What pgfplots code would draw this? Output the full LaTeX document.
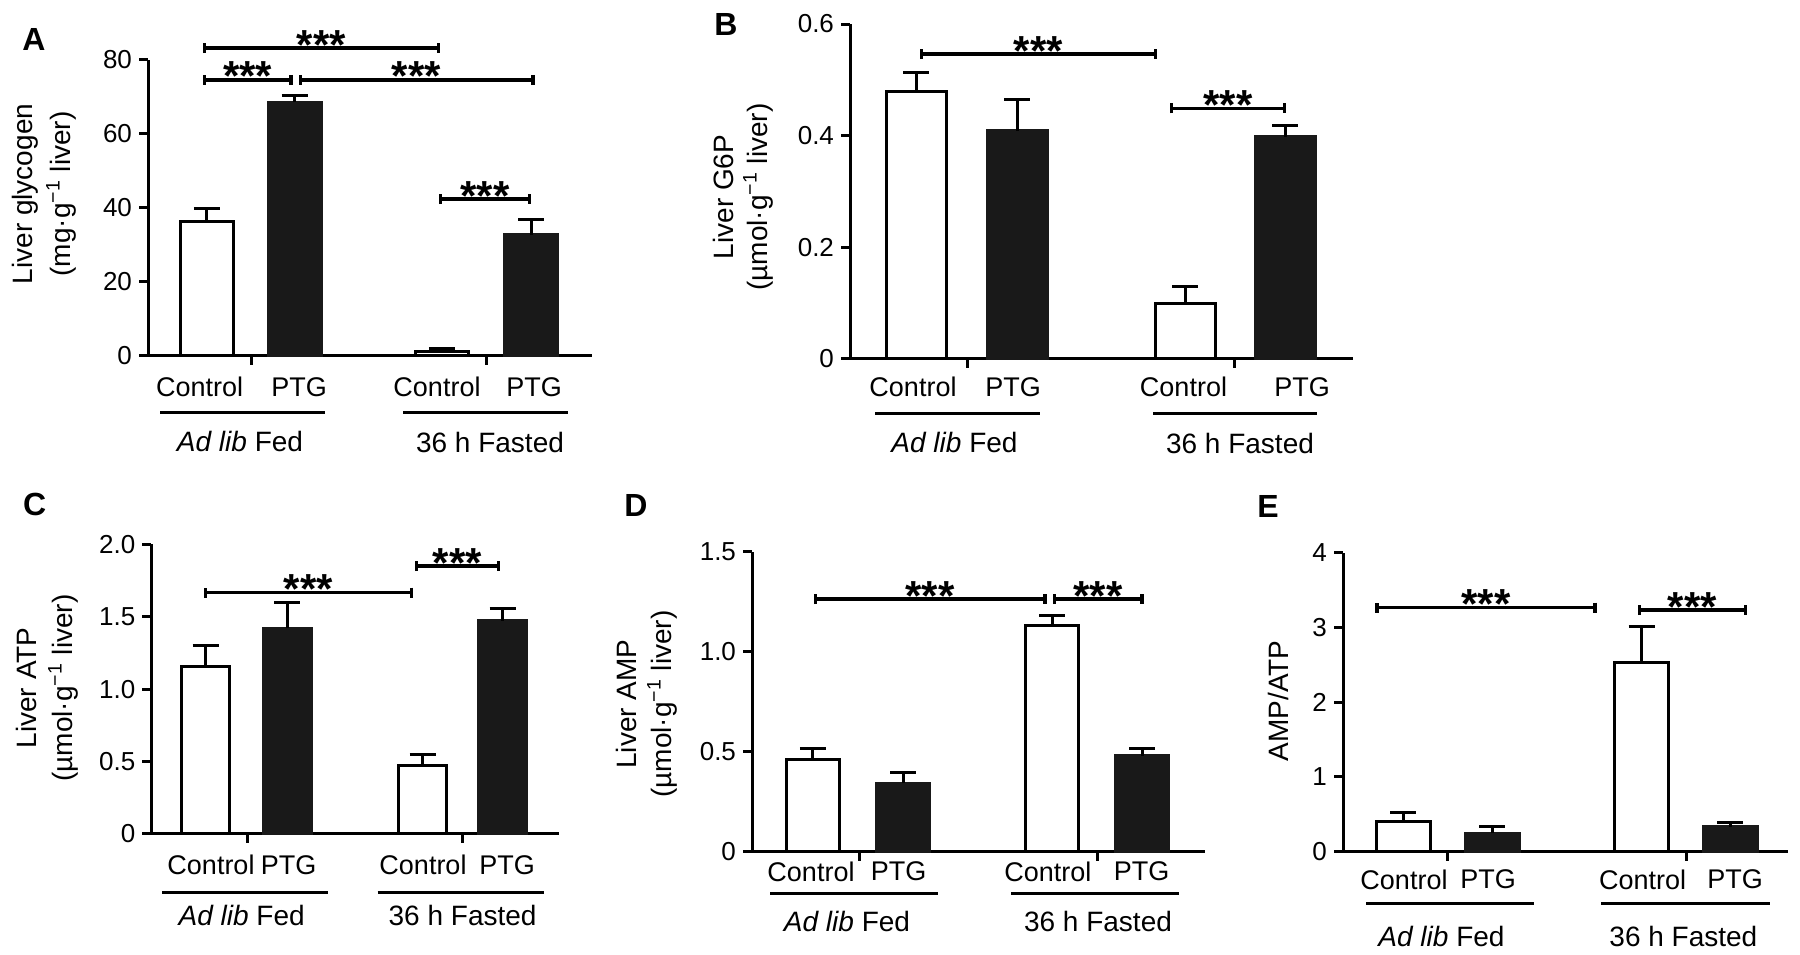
\documentclass[border=0pt]{standalone}
\usepackage{fontspec}
\setmainfont{Liberation Sans}
\usepackage{pgfplots}
\pgfplotsset{compat=1.18}
\usetikzlibrary{arrows.meta}

\tikzset{
  lab/.style={font=\fontsize{13.5}{14}\selectfont, inner sep=0pt, anchor=center},
  glab/.style={font=\fontsize{14}{15}\selectfont, inner sep=0pt, anchor=center},
  st/.style={font=\fontsize{21}{21}\selectfont\bfseries, inner sep=0pt, anchor=base},
  uline/.style={line width=1.5pt},
  brk/.style={{Bar[width=5pt]}-{Bar[width=5pt]}, line width=1.7pt},
  ylab/.style={font=\fontsize{14}{15}\selectfont, rotate=90, inner sep=0pt, anchor=center},
  plab/.style={font=\fontsize{16}{16}\selectfont\bfseries, inner sep=0pt, anchor=center},
}
\pgfplotsset{
  panel/.style={
    scale only axis, anchor=south west, clip=false,
    axis x line*=bottom, axis y line*=left,
    axis line style={line width=1.5pt},
    tick align=outside, major tick length=4.5pt,
    tick style={black, line width=1.5pt},
    xticklabels={},
    xmin=0, ymin=0, enlargelimits=false,
    ticklabel style={font=\fontsize{13}{13}\selectfont},
    /pgf/number format/assume math mode=true,
  },
  wbar/.style={ybar, /pgf/bar shift=0pt, fill=white, draw=black, line width=1.5pt,
    error bars/.cd, y dir=plus, y explicit,
    error bar style={black, line width=1.5pt},
    error mark options={rotate=90, black, mark size=6.5pt, line width=1.5pt}},
  bbar/.style={ybar, /pgf/bar shift=0pt, fill=black!90, draw=black!90, line width=1.5pt,
    error bars/.cd, y dir=plus, y explicit,
    error bar style={black, line width=1.5pt},
    error mark options={rotate=90, black, mark size=6.5pt, line width=1.5pt}},
}

\begin{document}
\begin{tikzpicture}
\path[use as bounding box] (0,0) rectangle (900pt,477pt);

% ---------------- Panel A ----------------
\begin{axis}[panel, at={(74pt,299pt)}, width=222pt, height=148pt,
  xmax=444, ymax=80, ytick={0,20,40,60,80}, xtick={103.5,338}, bar width=53]
\addplot[wbar] coordinates {(58.8,36.3) +- (0,3.6) (293.8,1.2) +- (0,0.9)};
\addplot[bbar] coordinates {(146.7,68.6) +- (0,1.9) (383,32.8) +- (0,4.2)};
\node[lab] at ([yshift=-15.5pt]axis cs:51.7,0) {Control};
\node[lab] at ([yshift=-15.5pt]axis cs:151,0) {PTG};
\node[lab] at ([yshift=-15.5pt]axis cs:289,0) {Control};
\node[lab] at ([yshift=-15.5pt]axis cs:386,0) {PTG};
\draw[uline] ([yshift=-28.5pt]axis cs:12,0) -- ([yshift=-28.5pt]axis cs:177,0);
\draw[uline] ([yshift=-28.5pt]axis cs:255,0) -- ([yshift=-28.5pt]axis cs:420,0);
\node[glab] at ([yshift=-43pt]axis cs:92,0) {\textit{Ad lib} Fed};
\node[glab] at ([yshift=-43pt]axis cs:342,0) {36 h Fasted};
\draw[brk] (axis cs:55,83.2) -- (axis cs:292,83.2);
\node[st] at ([yshift=-5.5pt]axis cs:173.5,83.2) {***};
\draw[brk] (axis cs:55,74.6) -- (axis cs:144.6,74.6);
\node[st] at ([yshift=-5.5pt]axis cs:99.8,74.6) {***};
\draw[brk] (axis cs:150.5,74.6) -- (axis cs:386.6,74.6);
\node[st] at ([yshift=-5.5pt]axis cs:268.5,74.6) {***};
\draw[brk] (axis cs:291,42.4) -- (axis cs:383,42.4);
\node[st] at ([yshift=-5.5pt]axis cs:337,42.4) {***};
\end{axis}

% ---------------- Panel B ----------------
\begin{axis}[panel, at={(425pt,297.5pt)}, width=251.5pt, height=167.5pt,
  xmax=503, ymax=0.6, ytick={0,0.2,0.4,0.6}, yticklabels={0,0.2,0.4,0.6},
  xtick={117,384.5}, bar width=60]
\addplot[wbar] coordinates {(66,0.48) +- (0,0.033) (335,0.1) +- (0,0.029)};
\addplot[bbar] coordinates {(167,0.409) +- (0,0.056) (435,0.398) +- (0,0.02)};
\node[lab] at ([yshift=-14pt]axis cs:63,0) {Control};
\node[lab] at ([yshift=-14pt]axis cs:163,0) {PTG};
\node[lab] at ([yshift=-14pt]axis cs:333.5,0) {Control};
\node[lab] at ([yshift=-14pt]axis cs:452,0) {PTG};
\draw[uline] ([yshift=-27.5pt]axis cs:25,0) -- ([yshift=-27.5pt]axis cs:190,0);
\draw[uline] ([yshift=-27.5pt]axis cs:303,0) -- ([yshift=-27.5pt]axis cs:467,0);
\node[glab] at ([yshift=-42pt]axis cs:104.5,0) {\textit{Ad lib} Fed};
\node[glab] at ([yshift=-42pt]axis cs:390,0) {36 h Fasted};
\draw[brk] (axis cs:69.6,0.546) -- (axis cs:307.4,0.546);
\node[st] at ([yshift=-5.5pt]axis cs:188.5,0.546) {***};
\draw[brk] (axis cs:320,0.449) -- (axis cs:436,0.449);
\node[st] at ([yshift=-5.5pt]axis cs:378,0.449) {***};
\end{axis}

% ---------------- Panel C ----------------
\begin{axis}[panel, at={(75.7pt,60pt)}, width=203.65pt, height=144.85pt,
  xmax=407.3, ymax=2, ytick={0,0.5,1,1.5,2}, yticklabels={0,0.5,1.0,1.5,2.0},
  xtick={95.6,311.2}, bar width=48]
\addplot[wbar] coordinates {(54.2,1.153) +- (0,0.145) (271.1,0.472) +- (0,0.074)};
\addplot[bbar] coordinates {(135.6,1.42) +- (0,0.18) (351.1,1.473) +- (0,0.086)};
\node[lab] at ([yshift=-15.5pt]axis cs:59.6,0) {Control};
\node[lab] at ([yshift=-15.5pt]axis cs:137.2,0) {PTG};
\node[lab] at ([yshift=-15.5pt]axis cs:271.6,0) {Control};
\node[lab] at ([yshift=-15.5pt]axis cs:355.6,0) {PTG};
\draw[uline] ([yshift=-29pt]axis cs:10.6,0) -- ([yshift=-29pt]axis cs:176.6,0);
\draw[uline] ([yshift=-29pt]axis cs:226.2,0) -- ([yshift=-29pt]axis cs:392.3,0);
\node[glab] at ([yshift=-40.5pt]axis cs:90.3,0) {\textit{Ad lib} Fed};
\node[glab] at ([yshift=-40.5pt]axis cs:311.2,0) {36 h Fasted};
\draw[brk] (axis cs:52.2,1.667) -- (axis cs:261.6,1.667);
\node[st] at ([yshift=-5.5pt]axis cs:157,1.667) {***};
\draw[brk] (axis cs:263.6,1.849) -- (axis cs:348.6,1.849);
\node[st] at ([yshift=-5.5pt]axis cs:306,1.849) {***};
\end{axis}

% ---------------- Panel D ----------------
\begin{axis}[panel, at={(376pt,51.15pt)}, width=226.5pt, height=150pt,
  xmax=453, ymax=1.5, ytick={0,0.5,1,1.5}, yticklabels={0,0.5,1.0,1.5},
  xtick={107,345}, bar width=53]
\addplot[wbar] coordinates {(60.8,0.462) +- (0,0.055) (300,1.133) +- (0,0.047)};
\addplot[bbar] coordinates {(151,0.342) +- (0,0.055) (390.3,0.48) +- (0,0.037)};
\node[lab] at ([yshift=-10pt]axis cs:59,0) {Control};
\node[lab] at ([yshift=-10pt]axis cs:146.5,0) {PTG};
\node[lab] at ([yshift=-10pt]axis cs:295.8,0) {Control};
\node[lab] at ([yshift=-10pt]axis cs:389.7,0) {PTG};
\draw[uline] ([yshift=-20.8pt]axis cs:18,0) -- ([yshift=-20.8pt]axis cs:186,0);
\draw[uline] ([yshift=-20.8pt]axis cs:259,0) -- ([yshift=-20.8pt]axis cs:427,0);
\node[glab] at ([yshift=-35pt]axis cs:95,0) {\textit{Ad lib} Fed};
\node[glab] at ([yshift=-35pt]axis cs:346,0) {36 h Fasted};
\draw[brk] (axis cs:61.5,1.263) -- (axis cs:294.8,1.263);
\node[st] at ([yshift=-5.5pt]axis cs:178,1.263) {***};
\draw[brk] (axis cs:300.7,1.263) -- (axis cs:391.7,1.263);
\node[st] at ([yshift=-5.5pt]axis cs:346,1.263) {***};
\end{axis}

% ---------------- Panel E ----------------
\begin{axis}[panel, at={(671.5pt,51.15pt)}, width=222.5pt, height=149.5pt,
  xmax=445, ymax=4, ytick={0,1,2,3,4},
  xtick={104.6,343}, bar width=54]
\addplot[wbar] coordinates {(60,0.41) +- (0,0.117) (298.5,2.534) +- (0,0.476)};
\addplot[bbar] coordinates {(149,0.246) +- (0,0.089) (387.4,0.335) +- (0,0.055)};
\node[lab] at ([yshift=-14pt]axis cs:61,0) {Control};
\node[lab] at ([yshift=-14pt]axis cs:145,0) {PTG};
\node[lab] at ([yshift=-14pt]axis cs:299.7,0) {Control};
\node[lab] at ([yshift=-14pt]axis cs:392,0) {PTG};
\draw[uline] ([yshift=-26pt]axis cs:23,0) -- ([yshift=-26pt]axis cs:190.8,0);
\draw[uline] ([yshift=-26pt]axis cs:258,0) -- ([yshift=-26pt]axis cs:426.5,0);
\node[glab] at ([yshift=-42.5pt]axis cs:98.5,0) {\textit{Ad lib} Fed};
\node[glab] at ([yshift=-42.5pt]axis cs:340.4,0) {36 h Fasted};
\draw[brk] (axis cs:32.4,3.264) -- (axis cs:253.7,3.264);
\node[st] at ([yshift=-5.5pt]axis cs:143,3.264) {***};
\draw[brk] (axis cs:295,3.233) -- (axis cs:404,3.233);
\node[st] at ([yshift=-5.5pt]axis cs:349.5,3.233) {***};
\end{axis}

% ---------------- Panel letters ----------------
\node[plab] at (17pt,457.5pt) {A};
\node[plab] at (363pt,465pt) {B};
\node[plab] at (17.4pt,225pt) {C};
\node[plab] at (318pt,224.5pt) {D};
\node[plab] at (634pt,224pt) {E};

% ---------------- Y labels ----------------
\node[ylab] at (12.7pt,380pt) {Liver glycogen};
\node[ylab] at (30.5pt,380pt) {(mg·g\textsuperscript{−1} liver)};
\node[ylab] at (361.5pt,378.5pt) {Liver G6P};
\node[ylab] at (379pt,378.5pt) {(µmol·g\textsuperscript{−1} liver)};
\node[ylab] at (13pt,133pt) {Liver ATP};
\node[ylab] at (31.5pt,133pt) {(µmol·g\textsuperscript{−1} liver)};
\node[ylab] at (313.3pt,125pt) {Liver AMP};
\node[ylab] at (331pt,125pt) {(µmol·g\textsuperscript{−1} liver)};
\node[ylab] at (639pt,126.5pt) {AMP/ATP};
\end{tikzpicture}
\end{document}
